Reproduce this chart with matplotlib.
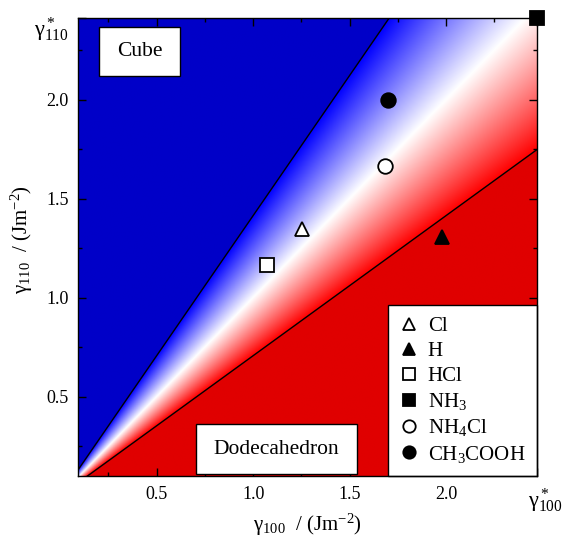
"""Wulff-shape map: cube vs dodecahedron from gamma_100 / gamma_110."""

import numpy as np
import matplotlib
matplotlib.use("Agg")
import matplotlib.pyplot as plt
from matplotlib.colors import to_rgb
from matplotlib.patches import Rectangle
from matplotlib.transforms import ScaledTranslation

plt.rcParams["font.family"] = ["Liberation Serif", "DejaVu Serif"]
plt.rcParams["mathtext.fontset"] = "custom"
plt.rcParams["mathtext.rm"] = "Liberation Serif"
plt.rcParams["mathtext.it"] = "Liberation Serif:italic"
plt.rcParams["mathtext.default"] = "rm"

# surface energies (J m^-2) for each adsorbate
SPECIES = ["Cl", "H", "HCl", "NH$_3$", "NH$_4$Cl", "CH$_3$COOH"]
G100 = [1.255, 1.98, 1.07, 2.47, 1.685, 1.70]
G110 = [1.345, 1.305, 1.165, 2.41, 1.665, 2.00]
MARKERS = ["^", "^", "s", "s", "o", "o"]
FILLED = [False, True, False, True, False, True]

# axis range: clean-surface values gamma*_100, gamma*_110 at the upper end
X_RANGE = (0.094, 2.47)
Y_RANGE = (0.10, 2.41)
X_TICKS = [0.5, 1.0, 1.5, 2.0]
Y_TICKS = [0.5, 1.0, 1.5, 2.0]

# shape boundaries: cube above sqrt(2), dodecahedron below 1/sqrt(2)
R_CUBE = np.sqrt(2.0)
R_DODECA = 1.0 / np.sqrt(2.0)

BLUE_DARK = "#0000C8"
RED_DARK = "#E00000"


def background(n=700):
    x = np.linspace(*X_RANGE, n)
    y = np.linspace(*Y_RANGE, n)
    X, Y = np.meshgrid(x, y)
    t = np.log(Y / X) / np.log(R_CUBE)  # -1 .. 1 between the two lines
    tt = np.clip(t, -1, 1)
    rgb = np.empty(X.shape + (3,))
    # bwr-like: blue (0,0,1) at +1, white at 0, red (1,0,0) at -1
    pos = tt >= 0
    rgb[..., 0] = np.where(pos, 1 - tt, 1.0)
    rgb[..., 1] = 1 - np.abs(tt)
    rgb[..., 2] = np.where(pos, 1.0, 1 + tt)
    rgb[t > 1] = to_rgb(BLUE_DARK)
    rgb[t < -1] = to_rgb(RED_DARK)
    return rgb


def main():
    fig = plt.figure(figsize=(5.65, 5.38), dpi=100)
    ax = fig.add_axes([0.1386, 0.1152, 0.8114, 0.8508])

    ax.imshow(background(), extent=(*X_RANGE, *Y_RANGE), origin="lower",
              aspect="auto", interpolation="bilinear", zorder=0)

    xs = np.array(X_RANGE)
    ax.plot(xs, R_CUBE * xs, color="black", lw=1.0, zorder=2)
    ax.plot(xs, R_DODECA * xs, color="black", lw=1.0, zorder=2)

    handles = []
    for sp, gx, gy, m, f in zip(SPECIES, G100, G110, MARKERS, FILLED):
        h, = ax.plot(gx, gy, linestyle="none", marker=m, markersize=10.5,
                     markerfacecolor="black" if f else "white",
                     markeredgecolor="black", markeredgewidth=1.3,
                     clip_on=False, zorder=5, label=sp)
        handles.append(h)

    # region labels
    for (x0, y0, x1, y1), txt in [((0.045, 0.874, 0.222, 0.981), "Cube"),
                                  ((0.257, 0.004, 0.607, 0.114), "Dodecahedron")]:
        ax.add_patch(Rectangle((x0, y0), x1 - x0, y1 - y0, transform=ax.transAxes,
                               facecolor="white", edgecolor="black", lw=1.0, zorder=3))
        ax.text((x0 + x1) / 2, (y0 + y1) / 2, txt, transform=ax.transAxes,
                ha="center", va="center", fontsize=15.5, zorder=4)

    leg = ax.legend(handles=handles, loc="lower right", borderaxespad=0,
                    fontsize=15, frameon=True, fancybox=False, framealpha=1,
                    edgecolor="black", handlelength=0.9, handletextpad=0.45,
                    labelspacing=0.25, borderpad=0.55, markerscale=0.85)
    leg.get_frame().set_linewidth(1.0)
    leg.set_zorder(6)

    ax.set_xlim(*X_RANGE)
    ax.set_ylim(*Y_RANGE)
    ax.set_xticks(X_TICKS + [X_RANGE[1]])
    xl = ax.set_xticklabels([f"{v:.1f}" for v in X_TICKS] + [r"$\gamma^*_{100}$"])
    ax.set_yticks(Y_TICKS + [Y_RANGE[1]])
    yl = ax.set_yticklabels([f"{v:.1f}" for v in Y_TICKS] + [r"$\gamma^*_{110}$"])
    ax.set_xticks([0.25, 0.75, 1.25, 1.75, 2.25], minor=True)
    ax.set_yticks([0.25, 0.75, 1.25, 1.75, 2.25], minor=True)
    ax.tick_params(which="both", direction="in", top=True, right=True,
                   labelsize=13)
    ax.tick_params(which="major", length=6, width=1.0, pad=7)
    ax.tick_params(which="minor", length=3, width=1.0)
    for lab in (xl[-1], yl[-1]):
        lab.set_fontsize(16)
    xl[-1].set_transform(xl[-1].get_transform()
                         + ScaledTranslation(0.09, 0, fig.dpi_scale_trans))
    yl[-1].set_transform(yl[-1].get_transform()
                         + ScaledTranslation(0, -0.07, fig.dpi_scale_trans))
    for s in ax.spines.values():
        s.set_linewidth(1.0)
        s.set_zorder(7)

    ax.set_xlabel(r"$\gamma_{100}$  / (Jm$^{-2}$)", fontsize=15)
    ax.set_ylabel(r"$\gamma_{110}$  / (Jm$^{-2}$)", fontsize=15)
    ax.xaxis.set_label_coords(0.5, -0.078)
    ax.yaxis.set_label_coords(-0.094, 0.516)

    fig.savefig("out.png", dpi=100)


if __name__ == "__main__":
    main()
